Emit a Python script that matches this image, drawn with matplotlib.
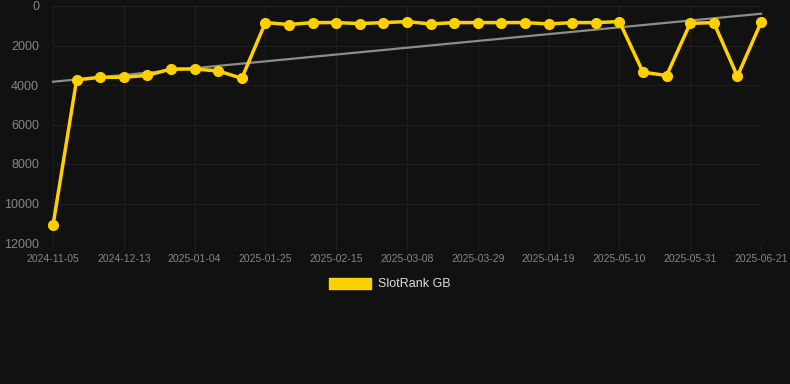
import numpy as np
import matplotlib
matplotlib.use("Agg")
import matplotlib.pyplot as plt
from matplotlib.patches import Patch

plt.rcParams['font.family'] = ['Liberation Sans', 'DejaVu Sans']

# weekly rank snapshots (lower is better, axis inverted)
dates = ['2024-11-05', '2024-11-22', '2024-11-29', '2024-12-13', '2024-12-20',
         '2024-12-27', '2025-01-04', '2025-01-11', '2025-01-18', '2025-01-25',
         '2025-02-01', '2025-02-08', '2025-02-15', '2025-02-22', '2025-03-01',
         '2025-03-08', '2025-03-15', '2025-03-22', '2025-03-29', '2025-04-05',
         '2025-04-12', '2025-04-19', '2025-04-26', '2025-05-03', '2025-05-10',
         '2025-05-17', '2025-05-24', '2025-05-31', '2025-06-07', '2025-06-14',
         '2025-06-21']
rank = [11100, 3740, 3610, 3610, 3510, 3190, 3190, 3290, 3660, 840,
        940, 840, 840, 890, 840, 790, 910, 840, 840, 840,
        840, 910, 840, 840, 790, 3350, 3520, 880, 840, 3560,
        830]
series_name = 'SlotRank GB'

bg = '#111111'
gold = '#FFD000'
gridc = '#1f1f1f'
txtc = '#858585'

fig = plt.figure(figsize=(7.9, 3.84), dpi=100, facecolor=bg)
ax = fig.add_axes([53/790, 1-243/384, (761-53)/790, (243-6)/384])
ax.set_facecolor(bg)

x = np.arange(len(rank))
# linear trend
k, b = np.polyfit(x, rank, 1)
ax.plot(x, k*x + b, color='#8c8c8c', linewidth=1.6, zorder=2, clip_on=False)

ax.plot(x, rank, '-', color=gold, linewidth=2.5, marker='o', markersize=7,
        zorder=3, clip_on=False)

ax.set_xlim(0, len(rank)-1)
ax.set_ylim(12000, 0)
ax.set_yticks(np.arange(0, 12001, 2000))
ax.set_xticks(x[::3])
ax.set_xticklabels(dates[::3])

ax.grid(True, color=gridc, linewidth=0.8)
for s in ax.spines.values():
    s.set_visible(False)
ax.tick_params(axis='x', colors=gridc, labelcolor=txtc, labelsize=7.5, length=5, pad=3)
ax.tick_params(axis='y', colors=gridc, labelcolor=txtc, labelsize=9, length=0, pad=10)
ax.axhline(12000, color='#292929', linewidth=0.8)

leg = fig.legend(handles=[Patch(facecolor=gold, edgecolor=gold, label=series_name)],
                 loc='center', bbox_to_anchor=(390/790, 1-284/384), frameon=False,
                 fontsize=9, handlelength=3.3, handleheight=1.0, handletextpad=0.6)
for t in leg.get_texts():
    t.set_color('#dddddd')

fig.savefig('out.png', dpi=100, facecolor=bg)
